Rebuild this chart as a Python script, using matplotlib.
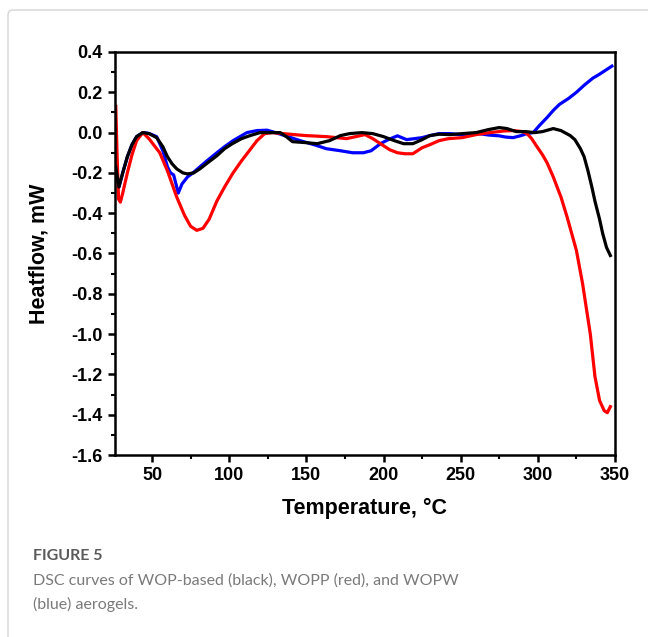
import numpy as np
import matplotlib
matplotlib.use('Agg')
import matplotlib.pyplot as plt
from matplotlib.patches import FancyBboxPatch
from matplotlib.ticker import MultipleLocator, FormatStrFormatter

# DSC curves (temperature in C, heatflow in mW)
t_black = [26.5, 28.5, 31, 34, 37, 40, 44, 48, 53, 57, 60, 63, 66, 70, 73, 77, 81, 86, 92, 97,
           102, 108, 113.5, 120, 126, 133, 137, 141, 150, 157, 165, 172, 178, 186, 193, 200,
           207, 213, 219, 225, 230, 236, 243, 251, 260, 268, 275, 280, 286, 292, 298, 303,
           310, 315, 321, 324, 327.6, 330, 332.5, 335, 337, 340, 342, 344.5, 347]
hf_black = [-0.17, -0.27, -0.2, -0.12, -0.06, -0.02, 0.0, -0.005, -0.025, -0.07, -0.12, -0.155,
            -0.18, -0.2, -0.205, -0.2, -0.18, -0.15, -0.115, -0.08, -0.055, -0.03, -0.015, 0.0,
            0.0, 0.0, -0.02, -0.045, -0.05, -0.055, -0.04, -0.015, -0.005, 0.0, -0.005, -0.02,
            -0.04, -0.055, -0.055, -0.035, -0.015, -0.008, -0.01, -0.005, 0.0, 0.015, 0.025,
            0.02, 0.005, 0.005, 0.0, 0.005, 0.02, 0.01, -0.015, -0.035, -0.08, -0.12, -0.19,
            -0.27, -0.34, -0.43, -0.5, -0.57, -0.61]

t_red = [26.5, 27.3, 28.3, 29.5, 31, 34, 37, 40, 44, 48, 52, 55, 60, 66, 71, 75, 79, 83, 87, 92,
         97, 102.5, 108, 113, 118, 123, 128, 135, 142, 150, 163, 176, 182, 188, 193, 198, 204,
         209, 214, 219, 225, 230, 236, 242, 251, 260, 269, 278, 284, 290, 293, 296, 299, 303,
         306, 310, 315, 319, 325, 329, 334, 337, 340, 343, 345, 347]
hf_red = [0.13, -0.1, -0.33, -0.345, -0.3, -0.2, -0.11, -0.04, 0.0, -0.03, -0.07, -0.1, -0.19,
          -0.32, -0.41, -0.465, -0.485, -0.475, -0.43, -0.34, -0.27, -0.2, -0.14, -0.09, -0.04,
          -0.005, 0.0, -0.005, -0.01, -0.015, -0.02, -0.03, -0.02, -0.01, -0.03, -0.055, -0.085,
          -0.1, -0.105, -0.105, -0.075, -0.06, -0.04, -0.03, -0.025, -0.01, 0.0, 0.008, 0.01,
          0.005, -0.005, -0.03, -0.065, -0.11, -0.15, -0.22, -0.32, -0.42, -0.585, -0.75, -1.0,
          -1.21, -1.33, -1.38, -1.39, -1.36]

t_blue = [26.5, 28.6, 31, 34, 37, 40, 44, 48, 53, 57, 60, 62, 64, 67, 69.4, 73, 76.5, 81, 85.6,
          92, 97, 102.5, 107, 111.5, 118, 124.5, 130, 138, 146, 155, 163, 172, 180, 187, 192,
          198, 203, 209, 215, 220, 225, 230, 236, 243, 250, 262, 268, 275, 279, 284, 289, 293,
          297, 301, 306, 310, 314, 320, 325, 330, 335.6, 340, 344, 348]
hf_blue = [-0.18, -0.27, -0.2, -0.12, -0.06, -0.02, 0.0, -0.004, -0.02, -0.09, -0.17, -0.2,
           -0.21, -0.3, -0.255, -0.22, -0.2, -0.17, -0.14, -0.1, -0.07, -0.04, -0.02, 0.0, 0.01,
           0.012, 0.0, -0.02, -0.04, -0.06, -0.08, -0.09, -0.1, -0.1, -0.09, -0.055, -0.035,
           -0.016, -0.035, -0.03, -0.025, -0.015, -0.005, -0.005, -0.01, -0.005, -0.012, -0.016,
           -0.022, -0.025, -0.015, -0.005, 0.0, 0.035, 0.075, 0.11, 0.14, 0.17, 0.2, 0.235,
           0.27, 0.29, 0.31, 0.33]

fig = plt.figure(figsize=(6.48, 6.37), dpi=100)

# light frame around the panel
frame = FancyBboxPatch((8 / 648, -0.2), 1.2, 1.2 - 10 / 637,
                       boxstyle='round,pad=0,rounding_size=0.008',
                       transform=fig.transFigure, fc='none', ec='#d4d4d4', lw=1.0)
fig.patches.append(frame)

ax = fig.add_axes([115 / 648, 1 - 455 / 637, 500 / 648, 403 / 637])

ax.plot(t_blue, hf_blue, color='#0000ff', lw=2.3, solid_joinstyle='round')
ax.plot(t_red, hf_red, color='#ff0000', lw=2.3, solid_joinstyle='round')
ax.plot(t_black, hf_black, color='black', lw=2.3, solid_joinstyle='round')

ax.set_xlim(26, 350)
ax.set_ylim(-1.6, 0.4)
ax.xaxis.set_major_locator(MultipleLocator(50))
ax.xaxis.set_minor_locator(MultipleLocator(25))
ax.yaxis.set_major_locator(MultipleLocator(0.2))
ax.yaxis.set_minor_locator(MultipleLocator(0.1))
ax.yaxis.set_major_formatter(FormatStrFormatter('%.1f'))

for s in ax.spines.values():
    s.set_linewidth(1.8)
ax.tick_params(which='major', direction='out', length=5, width=1.8, pad=4,
               top=False, right=False)
ax.tick_params(which='minor', direction='out', length=3, width=1.5,
               top=False, right=False)
for lab in ax.get_xticklabels() + ax.get_yticklabels():
    lab.set_family('Liberation Sans')
    lab.set_fontweight('bold')
    lab.set_fontsize(13)

ax.set_xlabel('Temperature, °C', family='Liberation Sans', fontweight='bold', fontsize=15.5)
ax.set_ylabel('Heatflow, mW', family='Liberation Sans', fontweight='bold', fontsize=15.5)
ax.xaxis.set_label_coords(0.5, -(498 - 455) / 403)
ax.yaxis.set_label_coords(-(115 - 50) / 500, 0.5)

fig.text(33 / 648, 1 - 556 / 637, 'FIGURE 5', family='Lato', fontweight='bold',
         fontsize=11.5, color='#5a5a5a', va='center')
fig.text(33 / 648, 1 - 581 / 637, 'DSC curves of WOP-based (black), WOPP (red), and WOPW',
         family='Lato', fontsize=11.5, color='#7a7a7a', va='center')
fig.text(33 / 648, 1 - 604 / 637, '(blue) aerogels.',
         family='Lato', fontsize=11.5, color='#7a7a7a', va='center')

fig.savefig('out.png', dpi=100)
